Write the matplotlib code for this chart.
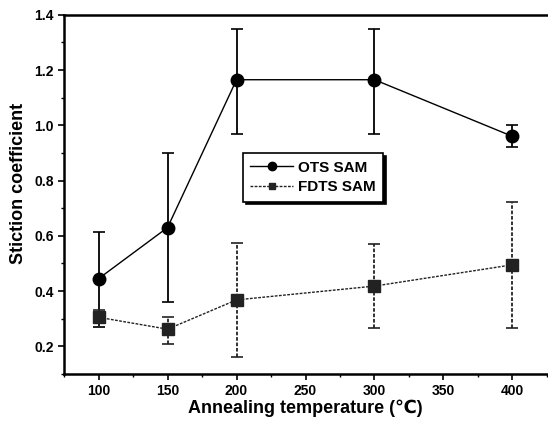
import matplotlib
matplotlib.use("Agg")
import matplotlib.pyplot as plt
from matplotlib.ticker import MultipleLocator
from matplotlib.lines import Line2D

temps = [100, 150, 200, 300, 400]
ots = [0.445, 0.63, 1.165, 1.165, 0.96]
ots_lo = [0.27, 0.36, 0.97, 0.97, 0.92]
ots_hi = [0.615, 0.90, 1.35, 1.35, 1.0]
fdts = [0.305, 0.262, 0.368, 0.418, 0.495]
fdts_lo = [0.27, 0.21, 0.16, 0.266, 0.266]
fdts_hi = [0.33, 0.305, 0.575, 0.57, 0.724]

plt.rcParams['font.family'] = ['Liberation Sans', 'DejaVu Sans']

fig = plt.figure(figsize=(5.48, 4.23), dpi=100)
ax = fig.add_axes([0.117, 0.116, 0.881, 0.849])

ots_err = [[v - l for v, l in zip(ots, ots_lo)], [h - v for v, h in zip(ots, ots_hi)]]
fdts_err = [[v - l for v, l in zip(fdts, fdts_lo)], [h - v for v, h in zip(fdts, fdts_hi)]]

ax.errorbar(temps, ots, yerr=ots_err, color='black', marker='o', markersize=9,
            linewidth=1.0, elinewidth=1.3, capsize=4, capthick=1.2)
e = ax.errorbar(temps, fdts, yerr=fdts_err, color='#222222', marker='s', markersize=8,
                linewidth=1.0, linestyle=(0, (2, 1)), elinewidth=1.3, capsize=4, capthick=1.2)
for lc in e[2]:
    lc.set_linestyle((0, (2, 1)))

ax.set_xlim(75, 425)
ax.set_ylim(0.1, 1.4)
ax.xaxis.set_major_locator(MultipleLocator(50))
ax.xaxis.set_minor_locator(MultipleLocator(25))
ax.yaxis.set_major_locator(MultipleLocator(0.2))
ax.yaxis.set_minor_locator(MultipleLocator(0.1))
ax.tick_params(which='major', direction='out', length=4, width=1.2, labelsize=10)
ax.tick_params(which='minor', direction='out', length=2, width=1.0)
for lab in ax.get_xticklabels() + ax.get_yticklabels():
    lab.set_fontweight('bold')

for s in ['left', 'bottom', 'top']:
    ax.spines[s].set_linewidth(1.8)
ax.spines['right'].set_visible(False)

ax.set_xlabel('Annealing temperature (℃)', fontsize=13, fontweight='bold', labelpad=1)
ax.set_ylabel('Stiction coefficient', fontsize=13, fontweight='bold')
ax.yaxis.set_label_coords(-0.076, 0.53)

handles = [
    Line2D([], [], color='black', marker='o', markersize=6, linewidth=1.0),
    Line2D([], [], color='#222222', marker='s', markersize=5, linewidth=1.0, linestyle=(0, (2, 1))),
]
leg = ax.legend(handles, ['OTS SAM', 'FDTS SAM'], loc='upper left', bbox_to_anchor=(0.37, 0.615),
                frameon=True, fancybox=False, shadow={'color': 'black', 'alpha': 1.0},
                edgecolor='black', borderpad=0.5, handlelength=2.8, handletextpad=0.3,
                labelspacing=0.35, borderaxespad=0,
                prop={'weight': 'bold', 'size': 11})
leg.get_frame().set_linewidth(1.2)

fig.savefig('out.png', dpi=100)
